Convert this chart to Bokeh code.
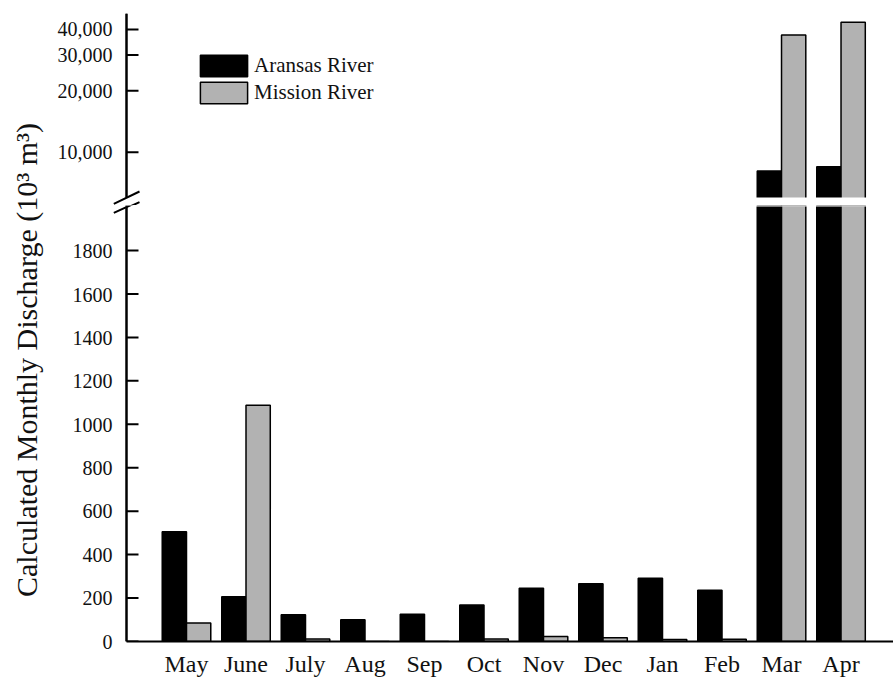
import numpy as np
from bokeh.plotting import figure
from bokeh.layouts import row, column
from bokeh.models import (Range1d, FixedTicker, NumeralTickFormatter, BoxAnnotation,
                          PolyAnnotation, ColumnDataSource, CDSView, BooleanFilter)
from bokeh.transform import dodge
from bokeh.core.properties import value
from bokeh.embed import file_html
from bokeh.resources import INLINE

# Monthly discharge (10^3 m^3)
months = ["May", "June", "July", "Aug", "Sep", "Oct", "Nov", "Dec", "Jan", "Feb", "Mar", "Apr"]
aransas = [506, 207, 123, 100, 126, 168, 246, 266, 292, 237, 8100, 8500]
mission = [85, 1090, 11, 0, 0, 11, 23, 17, 9, 10, 37600, 43400]

lower_ticks = [0, 200, 400, 600, 800, 1000, 1200, 1400, 1600, 1800]
upper_ticks = [10000, 20000, 30000, 40000]

FONT = "Liberation Serif"
TEXT_COLOR = "#111111"
MISSION_FILL = "#b2b2b2"

# page geometry (pixels)
TITLE_W = 48
MAIN_W = 893 - TITLE_W
FRAME_LEFT = 112          # left edge of both plot frames on the page
SPINE_X = 126             # y-axis spine on the page
TICK_PX = 12              # inward tick length
SPLIT_Y = 205             # boundary between upper (log) and lower (linear) panels
PLOT_TOP = 13
PLOT_BOTTOM = 642
GAP = (197, 207)          # white band of the axis break
BREAK_MARKS = [((113.3, 203.3), (139.0, 191.0)),
               ((113.3, 213.3), (139.0, 201.7))]

# numeric category positions
x_range = Range1d(-1.2437, 11.882)
AXIS_X = -1.008            # data x of the spine
BAR_W = 0.408

src = ColumnDataSource(dict(x=list(range(len(months))), aransas=aransas, mission=mission))

LOG_LOW, LOG_HIGH = 5480, 47900
LIN_LOW, LIN_HIGH = 0, 2012


def style_common(p):
    p.grid.visible = False
    p.outline_line_color = None
    p.background_fill_color = "white"
    p.border_fill_color = "white"


def black_line(xs, ys, xs_units="screen", ys_units="screen"):
    return PolyAnnotation(xs=xs, ys=ys, xs_units=xs_units, ys_units=ys_units,
                          fill_alpha=0, line_color="black", line_alpha=1, line_width=2,
                          line_join="bevel")


def style_yaxis(p, ticks, to_frame):
    """Axis supplies the tick labels; spine and inward ticks form one outline."""
    ax = p.yaxis[0]
    ax.ticker = FixedTicker(ticks=ticks, minor_ticks=[])
    ax.axis_line_color = None
    ax.major_tick_line_color = None
    ax.minor_tick_line_color = None
    ax.major_tick_in = 0
    ax.major_tick_out = 0
    ax.major_label_standoff = 0
    ax.major_label_text_font = FONT
    ax.major_label_text_font_size = "20px"
    ax.major_label_text_color = TEXT_COLOR

    frame_h = p.height - p.min_border_top - p.min_border_bottom
    w = SPINE_X - FRAME_LEFT
    xs, ys = [w], [0]
    for t in ticks:
        sy = to_frame(t) * frame_h
        xs += [w, w + TICK_PX, w]
        ys += [sy, sy, sy]
    xs.append(w)
    ys.append(frame_h)
    p.add_layout(black_line([w, w, w], [0, frame_h, 0]))
    p.add_layout(black_line(xs, ys))


def add_bars(p, bottom, views=(None, None), with_legend=False):
    kw_a = dict(legend_label="Aransas River") if with_legend else {}
    kw_m = dict(legend_label="Mission River") if with_legend else {}
    if views[0] is not None:
        kw_a["view"] = views[0]
    if views[1] is not None:
        kw_m["view"] = views[1]
    p.vbar(x=dodge("x", -BAR_W / 2), top="aransas", bottom=bottom, width=BAR_W, source=src,
           fill_color="black", line_color="black", line_width=1.5, **kw_a)
    p.vbar(x=dodge("x", BAR_W / 2), top="mission", bottom=bottom, width=BAR_W, source=src,
           fill_color=MISSION_FILL, line_color="black", line_width=1.5, **kw_m)


def add_break(p, frame_bottom):
    """White band across the break plus the two slanted marks on the spine."""
    lo = frame_bottom - GAP[1]
    hi = frame_bottom - GAP[0]
    p.add_layout(BoxAnnotation(bottom=lo, top=hi, bottom_units="screen", top_units="screen",
                               fill_color="white", fill_alpha=1, line_color=None))
    for (x0, y0), (x1, y1) in BREAK_MARKS:
        xs = [x0 - FRAME_LEFT, x1 - FRAME_LEFT, x0 - FRAME_LEFT]
        ys = [frame_bottom - y0, frame_bottom - y1, frame_bottom - y0]
        p.add_layout(black_line(xs, ys))


def log_frac(v):
    return np.log10(v / LOG_LOW) / np.log10(LOG_HIGH / LOG_LOW)


def lin_frac(v):
    return (v - LIN_LOW) / (LIN_HIGH - LIN_LOW)


# Upper panel: logarithmic scale above the axis break
top = figure(width=MAIN_W, height=SPLIT_Y, x_range=x_range, y_range=Range1d(LOG_LOW, LOG_HIGH),
             y_axis_type="log", x_axis_location=None, output_backend="svg",
             toolbar_location=None, min_border_left=FRAME_LEFT - TITLE_W, min_border_right=0,
             min_border_top=PLOT_TOP, min_border_bottom=0)
style_common(top)
views = (CDSView(filter=BooleanFilter([v > LOG_LOW for v in aransas])),
         CDSView(filter=BooleanFilter([v > LOG_LOW for v in mission])))
add_bars(top, 1, views=views, with_legend=True)
style_yaxis(top, upper_ticks, log_frac)
top.yaxis[0].formatter = NumeralTickFormatter(format="0,0")

lg = top.legend[0]
lg.location = (SPINE_X - FRAME_LEFT + 68, 99)
lg.padding = 0
lg.margin = 0
lg.spacing = 0
lg.border_line_color = None
lg.background_fill_alpha = 0
lg.glyph_width = 59
lg.glyph_height = 27
lg.label_height = 27
lg.label_standoff = 1
lg.label_text_font = FONT
lg.label_text_font_size = "21px"
lg.label_text_color = TEXT_COLOR

add_break(top, SPLIT_Y)

# Lower panel: linear scale below the axis break
bot = figure(width=MAIN_W, height=679 - SPLIT_Y, x_range=x_range,
             y_range=Range1d(LIN_LOW, LIN_HIGH), output_backend="svg",
             toolbar_location=None, min_border_left=FRAME_LEFT - TITLE_W,
             min_border_right=0, min_border_top=0, min_border_bottom=679 - PLOT_BOTTOM)
style_common(bot)
add_bars(bot, 0)
style_yaxis(bot, lower_ticks, lin_frac)

xa = bot.xaxis[0]
xa.bounds = (AXIS_X, x_range.end)
xa.ticker = FixedTicker(ticks=list(range(len(months))), minor_ticks=[])
xa.major_label_overrides = {i: m for i, m in enumerate(months)}
xa.axis_line_width = 2
xa.axis_line_color = "black"
xa.major_tick_line_color = None
xa.minor_tick_line_color = None
xa.major_tick_in = 0
xa.major_tick_out = 0
xa.major_label_standoff = 9
xa.major_label_text_font = FONT
xa.major_label_text_font_size = "24px"
xa.major_label_text_color = TEXT_COLOR

add_break(bot, PLOT_BOTTOM)

# Shared y-axis title spanning both panels
ttl = figure(width=TITLE_W, height=679, x_range=Range1d(0, TITLE_W), y_range=Range1d(0, 679),
             x_axis_location=None, y_axis_location=None, output_backend="svg",
             toolbar_location=None, min_border_left=0, min_border_right=0,
             min_border_top=0, min_border_bottom=0)
style_common(ttl)
ttl.text(x=[25.8], y=[679 - 359.5], text=["Calculated Monthly Discharge (10³ m³)"],
         angle=np.pi / 2, text_align="center", text_baseline="middle",
         text_font=value(FONT), text_font_size="30px", text_color=TEXT_COLOR)

layout = row(ttl, column(top, bot))

with open("out.html", "w") as f:
    f.write(file_html(layout, INLINE))
